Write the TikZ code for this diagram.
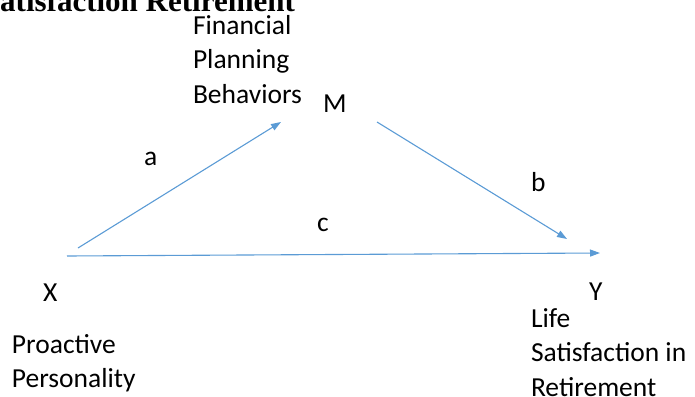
\documentclass[tikz,border=0pt]{standalone}
\usepackage{fontspec}
\setmainfont{Carlito}
\newfontfamily\titlefont{Liberation Serif}
\usetikzlibrary{arrows.meta}
\definecolor{arrowblue}{HTML}{5B9BD5}
\tikzset{
  lbl/.style={anchor=base west, inner sep=0pt, outer sep=0pt, font=\fontsize{27.5}{34.5}\selectfont},
  multi/.style={lbl, align=left},
  conn/.style={draw=arrowblue, line width=1.1pt, -{Triangle[length=10pt,width=7pt]}},
}
\begin{document}
\begin{tikzpicture}[x=1pt,y=-1pt]
\useasboundingbox (0,0) rectangle (695,396);
\clip (0,0) rectangle (695,396);
% title (cut off at top)
\node[anchor=base west, inner sep=0pt, font=\titlefont\bfseries\fontsize{31}{36}\selectfont] (title) at (0,12) {atisfaction Retirement};
% variable labels
\node[lbl] (M) at (323,112) {M};
\node[lbl] (X) at (43,301) {X};
\node[lbl] (Y) at (589,300) {Y};
% multi-line texts: anchored at the baseline of their last line
\node[multi] (Mtext) at (193,103) {Financial\\Planning\\Behaviors};
\node[multi] (Xtext) at (12,387.5) {Proactive\\Personality};
\node[multi] (Ytext) at (531,396) {Life\\Satisfaction in\\Retirement};
% path labels
\node[lbl] (la) at (144,165) {a};
\node[lbl] (lb) at (531,191) {b};
\node[lbl] (lc) at (317,231) {c};
% connector ends
\coordinate (aS) at (78,248);
\coordinate (aE) at (281,122);
\coordinate (bS) at (377,122);
\coordinate (bE) at (567,239);
\coordinate (cS) at (67,256);
\coordinate (cE) at (600,253);
\draw[conn] (aS) -- (aE);
\draw[conn] (bS) -- (bE);
\draw[conn] (cS) -- (cE);
\end{tikzpicture}
\end{document}
